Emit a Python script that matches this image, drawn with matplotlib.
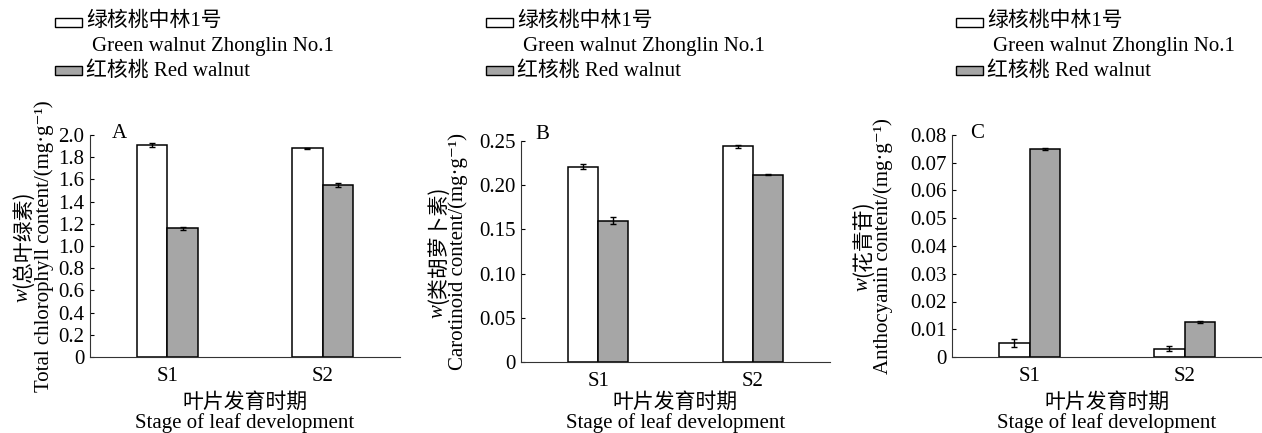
import matplotlib
matplotlib.use("Agg")
import matplotlib.pyplot as plt
from matplotlib.patches import Rectangle
import numpy as np

plt.rcParams['font.family'] = ['Liberation Serif', 'Noto Sans CJK SC', 'DejaVu Sans']

stages = ["S1", "S2"]
series_labels = ["绿核桃中林1号", "红核桃 Red walnut"]
series_label_en = "Green walnut Zhonglin No.1"
panel_letters = ["A", "B", "C"]

chl_green = [1.91, 1.88]
chl_green_err = [0.02, 0.005]
chl_red = [1.16, 1.55]
chl_red_err = [0.015, 0.02]

car_green = [0.221, 0.244]
car_green_err = [0.003, 0.002]
car_red = [0.160, 0.212]
car_red_err = [0.004, 0.001]

ant_green = [0.005, 0.003]
ant_green_err = [0.0015, 0.0008]
ant_red = [0.075, 0.0125]
ant_red_err = [0.0004, 0.0004]

ylabel_cn = ["(总叶绿素)", "(类胡萝卜素)", "(花青苷)"]
ylabel_en = ["Total chlorophyll content/(mg·g⁻¹)",
             "Carotinoid content/(mg·g⁻¹)",
             "Anthocyanin content/(mg·g⁻¹)"]
yticks = [
    [0, 0.2, 0.4, 0.6, 0.8, 1.0, 1.2, 1.4, 1.6, 1.8, 2.0],
    [0, 0.05, 0.10, 0.15, 0.20, 0.25],
    [0, 0.01, 0.02, 0.03, 0.04, 0.05, 0.06, 0.07, 0.08],
]
ytick_labels = [
    ["0", "0.2", "0.4", "0.6", "0.8", "1.0", "1.2", "1.4", "1.6", "1.8", "2.0"],
    ["0", "0.05", "0.10", "0.15", "0.20", "0.25"],
    ["0", "0.01", "0.02", "0.03", "0.04", "0.05", "0.06", "0.07", "0.08"],
]
xlabel_cn = "叶片发育时期"
xlabel_en = "Stage of leaf development"

W, H = 1262, 433
fig = plt.figure(figsize=(W / 100, H / 100), dpi=100)

# axes boxes in pixels: left, right, top, bottom
boxes = [(90, 400, 135, 357), (521, 830, 141, 362), (952, 1262, 135, 357)]
ylab_x = [(23, 44), (438, 458), (863, 883)]
leg_x = [55, 486, 956]
letter_off = [22, 14, 18]
letter_y = [133, 134, 133]

greens = [chl_green, car_green, ant_green]
greens_e = [chl_green_err, car_green_err, ant_green_err]
reds = [chl_red, car_red, ant_red]
reds_e = [chl_red_err, car_red_err, ant_red_err]

FS = 15
GRAY = "#a6a6a6"
CJK = ['Noto Sans CJK SC']

def fx(px):
    return px / W

def fy(py):
    return 1 - py / H

for i in range(3):
    l, r, t, b = boxes[i]
    ax = fig.add_axes([fx(l), fy(b), fx(r) - fx(l), fy(t) - fy(b)])
    x = np.arange(1, len(stages) + 1)
    w = 0.195
    ax.bar(x - w / 2, greens[i], w, color="white", edgecolor="black", linewidth=1.1,
           yerr=greens_e[i], error_kw=dict(ecolor="black", elinewidth=1, capsize=2.5, capthick=1))
    ax.bar(x + w / 2, reds[i], w, color=GRAY, edgecolor="black", linewidth=1.1,
           yerr=reds_e[i], error_kw=dict(ecolor="black", elinewidth=1, capsize=2.5, capthick=1))
    ax.set_xlim(0.5, 2.5)
    ax.set_ylim(0, yticks[i][-1])
    ax.set_yticks(yticks[i])
    ax.set_yticklabels(ytick_labels[i], fontsize=FS)
    ax.set_xticks(x)
    ax.set_xticklabels(stages, fontsize=FS)
    ax.tick_params(axis='y', direction='in', length=3, width=0.8, pad=4)
    ax.tick_params(axis='x', length=0, pad=7)
    for s in ["top", "right"]:
        ax.spines[s].set_visible(False)
    for s in ["left", "bottom"]:
        ax.spines[s].set_linewidth(0.8)
        ax.spines[s].set_color("#333333")
    fig.text(fx(l + letter_off[i]), fy(letter_y[i]), panel_letters[i],
             fontsize=FS, ha="left", va="center")

    cx = (l + r) / 2
    fig.text(fx(cx), fy(402), xlabel_cn, fontsize=FS, ha="center", va="center",
             family=CJK)
    fig.text(fx(cx), fy(423), xlabel_en, fontsize=FS, ha="center", va="center")

    cy = (t + b) / 2
    x1, x2 = ylab_x[i]
    # line 1: italic w + CJK, measured to center
    tw = fig.text(0, 0, "w", fontsize=FS, style="italic")
    tc = fig.text(0, 0, ylabel_cn[i], fontsize=FS, family=CJK)
    fig.canvas.draw()
    ww = tw.get_window_extent().width
    wc = tc.get_window_extent().width
    tw.remove()
    tc.remove()
    total = ww + wc
    ystart = cy + total / 2  # bottom end in pixel (top-down coords)
    fig.text(fx(x1), fy(ystart), "w", fontsize=FS, rotation=90, style="italic",
             rotation_mode="anchor", ha="left", va="center")
    fig.text(fx(x1), fy(ystart - ww), ylabel_cn[i], fontsize=FS, rotation=90,
             rotation_mode="anchor", ha="left", va="center", family=CJK)
    fig.text(fx(x2), fy(cy), ylabel_en[i], fontsize=FS, rotation=90,
             rotation_mode="anchor", ha="center", va="center")

    # legend
    lx = leg_x[i]
    fig.add_artist(Rectangle((fx(lx), fy(27)), fx(27), 9 / H, transform=fig.transFigure,
                             facecolor="white", edgecolor="black", linewidth=1))
    fig.text(fx(lx + 31), fy(21), series_labels[0], fontsize=FS, ha="left", va="center",
             family=['Liberation Serif', 'Noto Sans CJK SC'])
    fig.text(fx(lx + 37), fy(47), series_label_en, fontsize=FS, ha="left", va="center")
    fig.add_artist(Rectangle((fx(lx), fy(75)), fx(27), 9 / H, transform=fig.transFigure,
                             facecolor=GRAY, edgecolor="black", linewidth=1))
    fig.text(fx(lx + 31), fy(71), series_labels[1], fontsize=FS, ha="left", va="center",
             family=['Liberation Serif', 'Noto Sans CJK SC'])

fig.savefig("out.png", dpi=100)
